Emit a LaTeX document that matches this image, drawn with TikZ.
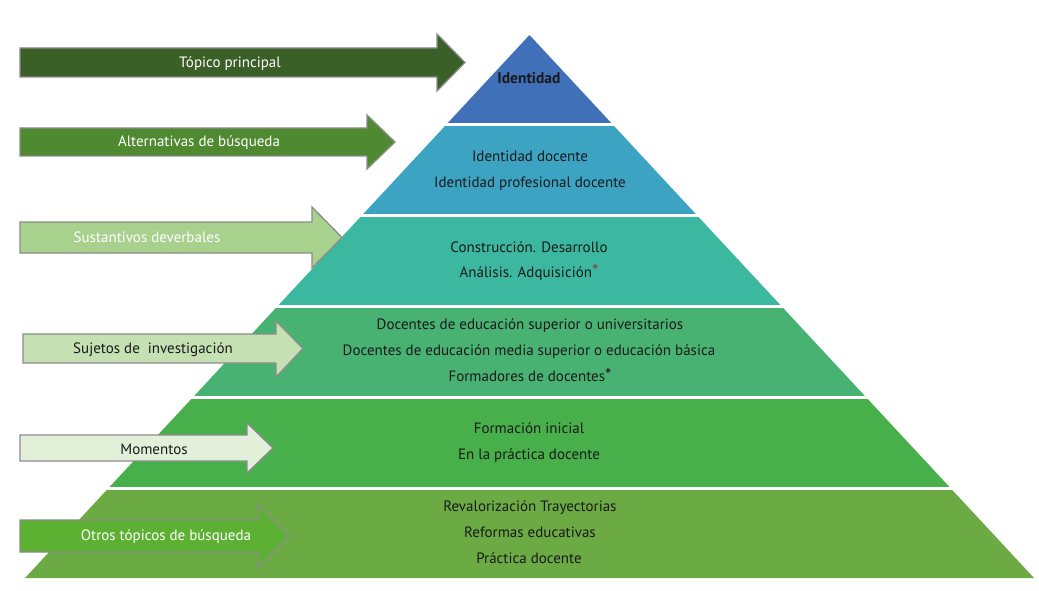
\documentclass[tikz,border=0pt]{standalone}
\usepackage{fontspec}
\setmainfont{PT Sans}
\definecolor{lay1}{HTML}{4070B8}
\definecolor{lay2}{HTML}{3CA4C2}
\definecolor{lay3}{HTML}{3CB8A0}
\definecolor{lay4}{HTML}{48B272}
\definecolor{lay5}{HTML}{48B04A}
\definecolor{lay6}{HTML}{6CAA44}
\definecolor{arr1}{HTML}{3A5F27}
\definecolor{arr2}{HTML}{4F8A30}
\definecolor{arr3}{HTML}{A9D18E}
\definecolor{arr4}{HTML}{C5E0B3}
\definecolor{arr5}{HTML}{E2EFD9}
\definecolor{arr6}{HTML}{5CB133}
\definecolor{txtdark}{HTML}{1A1A1A}
\definecolor{astred}{HTML}{8B3A3A}
\definecolor{arrborder}{HTML}{8C8C8C}
\newcommand\bigast{{\fontsize{18}{16}\selectfont *}}
\begin{document}
\begin{tikzpicture}[x=1pt,y=-1pt,
  arrowshape/.style={draw=arrborder,line width=1.3pt,line join=miter},
  layertext/.style={font=\fontsize{15}{17}\selectfont,text=txtdark,inner sep=0pt,text height=12.5pt,text depth=1.5pt},
  arrowtext/.style={font=\fontsize{15}{17}\selectfont,inner sep=0pt,text height=12pt,text depth=2pt},
  sep/.style={draw=white,line width=2.6pt}]
\useasboundingbox[fill=white] (0,0) rectangle (1039,591);
% pyramid layers
\fill[lay1] (529.5,35) -- (612.2,124) -- (446.8,124) -- cycle;
\fill[lay2] (446.8,124) -- (612.2,124) -- (696.7,215) -- (362.3,215) -- cycle;
\fill[lay3] (362.3,215) -- (696.7,215) -- (781.3,306) -- (277.7,306) -- cycle;
\fill[lay4] (277.7,306) -- (781.3,306) -- (865.8,397) -- (193.2,397) -- cycle;
\fill[lay5] (193.2,397) -- (865.8,397) -- (950.4,488) -- (108.6,488) -- cycle;
\fill[lay6] (108.6,488) -- (950.4,488) -- (1034,578) -- (25,578) -- cycle;
\draw[sep] (420,124.5) -- (640,124.5);
\draw[sep] (330,215.5) -- (730,215.5);
\draw[sep] (250,306.5) -- (810,306.5);
\draw[sep] (160,397.5) -- (900,397.5);
\draw[sep] (80,488.5) -- (980,488.5);
% layer texts
\node[layertext,font=\fontsize{15.5}{17}\selectfont\bfseries] (t1) at (529,78) {Identidad};
\node[layertext] (t2a) at (530,156) {Identidad docente};
\node[layertext] (t2b) at (530,182) {Identidad profesional docente};
\node[layertext] (t3a) at (529,247) {Construcción. Desarrollo};
\node[layertext] (t3b) at (529,272) {Análisis. Adquisición\textcolor{astred}{\bigast}};
\node[layertext] (t4a) at (530,324) {Docentes de educación superior o universitarios};
\node[layertext] (t4b) at (529,350) {Docentes de educación media superior o educación básica};
\node[layertext] (t4c) at (530,376) {Formadores de docentes\bigast};
\node[layertext] (t5a) at (529,428) {Formación inicial};
\node[layertext] (t5b) at (529,454) {En la práctica docente};
\node[layertext] (t6a) at (530,506) {Revalorización Trayectorias};
\node[layertext] (t6b) at (530,532) {Reformas educativas};
\node[layertext] (t6c) at (529,558) {Práctica docente};
% arrows
\filldraw[arrowshape,fill=arr1] (20,48) -- (437,48) -- (437,34) -- (465,62.5) -- (437,91) -- (437,77) -- (20,77) -- cycle;
\filldraw[arrowshape,fill=arr2] (20,128) -- (367,128) -- (367,115) -- (395,142) -- (367,169) -- (367,156) -- (20,156) -- cycle;
\filldraw[arrowshape,fill=arr3] (20,222) -- (312,222) -- (312,207) -- (342,237.5) -- (312,268) -- (312,253) -- (20,253) -- cycle;
\filldraw[arrowshape,fill=arr4] (23,334) -- (276,334) -- (276,321) -- (303,348.5) -- (276,377) -- (276,363) -- (23,363) -- cycle;
\filldraw[arrowshape,fill=arr5] (20,435) -- (247,435) -- (247,423) -- (273,448) -- (247,473) -- (247,461) -- (20,461) -- cycle;
\filldraw[arrowshape,fill=arr6] (20,520) -- (258,520) -- (258,505) -- (289,536) -- (258,567) -- (258,552) -- (20,552) -- cycle;
% arrow texts
\node[arrowtext,text=white] (a1) at (230,63) {Tópico principal};
\node[arrowtext,text=white] (a2) at (199,142) {Alternativas de búsqueda};
\node[arrowtext,text=white] (a3) at (147,237) {Sustantivos deverbales};
\node[arrowtext,text=txtdark] (a4) at (153,348) {Sujetos de\ \ investigación};
\node[arrowtext,text=txtdark] (a5) at (154,449) {Momentos};
\node[arrowtext,text=white] (a6) at (166,535) {Otros tópicos de búsqueda};
\end{tikzpicture}
\end{document}
